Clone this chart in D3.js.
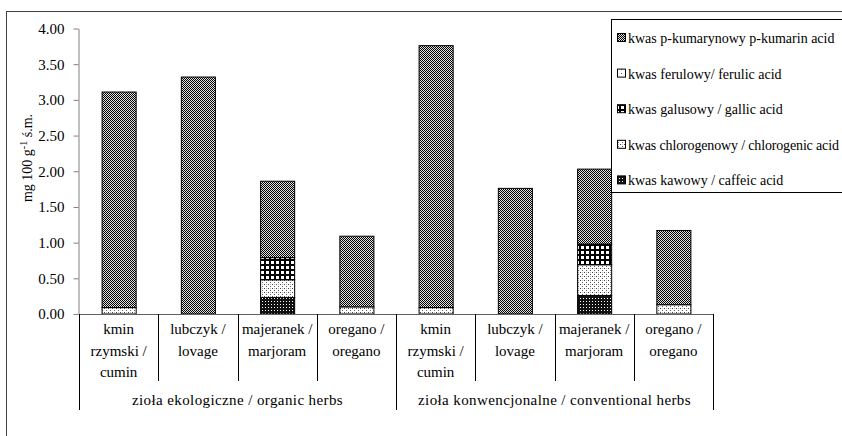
<!DOCTYPE html>
<html><head><meta charset="utf-8">
<script src="https://cdn.jsdelivr.net/npm/d3@7"></script>
<style>
html,body{margin:0;padding:0;background:#fff;}
svg{display:block;}
</style></head>
<body>
<svg id="chart" width="842" height="436"></svg>
<script>
// ---- data ----
const herbLines = [["kmin","rzymski /","cumin"],["lubczyk /","lovage"],["majeranek /","marjoram"],["oregano /","oregano"],
                   ["kmin","rzymski /","cumin"],["lubczyk /","lovage"],["majeranek /","marjoram"],["oregano /","oregano"]];
const categories = ["org-kmin","org-lubczyk","org-majeranek","org-oregano","conv-kmin","conv-lubczyk","conv-majeranek","conv-oregano"];
const groups = ["zioła ekologiczne / organic herbs","zioła konwencjonalne / conventional herbs"];
const seriesNames = ["kwas kawowy / caffeic acid","kwas chlorogenowy / chlorogenic acid","kwas galusowy / gallic acid","kwas ferulowy/  ferulic acid","kwas p-kumarynowy p-kumarin acid"];
const caffeic     = [0.00,0.00,0.23,0.00, 0.00,0.00,0.26,0.00];
const chlorogenic = [0.09,0.00,0.25,0.10, 0.09,0.00,0.43,0.13];
const gallic      = [0.00,0.00,0.31,0.00, 0.00,0.00,0.29,0.00];
const ferulic     = [0.00,0.00,0.00,0.00, 0.00,0.00,0.00,0.00];
const pkumarin    = [3.02,3.32,1.07,0.99, 3.67,1.76,1.05,1.04];
const yTicks = [0,0.5,1,1.5,2,2.5,3,3.5,4];
const legendOrder = [4,3,2,1,0];
const legendSpacing = {1:-0.15};

const FONT = "'Liberation Serif','DejaVu Serif','Times New Roman',serif";
const svg = d3.select("#chart");
const defs = svg.append("defs");
// patterns
function pat(id, size, bg, draw){
  const p = defs.append("pattern").attr("id",id).attr("patternUnits","userSpaceOnUse").attr("width",size).attr("height",size);
  p.append("rect").attr("width",size).attr("height",size).attr("fill",bg);
  draw(p);
}
pat("p0",3,"#111",p=>{p.append("rect").attr("x",1).attr("y",1).attr("width",1).attr("height",1).attr("fill","#fff");});
pat("p1",4,"#fff",p=>{p.append("rect").attr("x",0).attr("y",0).attr("width",1).attr("height",1).attr("fill","#444");
                      p.append("rect").attr("x",2).attr("y",2).attr("width",1).attr("height",1).attr("fill","#666");
                      p.append("rect").attr("x",2).attr("y",0).attr("width",1).attr("height",1).attr("fill","#bbb");});
pat("p2",5,"#000",p=>{p.append("rect").attr("x",1).attr("y",1).attr("width",3).attr("height",3).attr("fill","#fff");});
pat("p3",4,"#fff",p=>{p.append("rect").attr("x",1).attr("y",1).attr("width",1).attr("height",1).attr("fill","#555");});
pat("p4",2,"#e0e0e0",p=>{p.append("rect").attr("x",0).attr("y",0).attr("width",1).attr("height",1).attr("fill","#000");
                      p.append("rect").attr("x",1).attr("y",1).attr("width",1).attr("height",1).attr("fill","#000");});

// outer frame
svg.append("rect").attr("x",6.5).attr("y",11.5).attr("width",900).attr("height",500)
  .attr("fill","none").attr("stroke","#404040").attr("stroke-width",1);

const x = d3.scaleBand().domain(categories).range([79,713]).paddingInner(0.57).paddingOuter(0.285);
const y = d3.scaleLinear().domain([0,4]).range([314,28.5]);

// y axis
const yAxis = svg.append("g").attr("transform","translate(78.5,0)")
  .call(d3.axisLeft(y).tickValues(yTicks).tickFormat(d3.format(".2f")).tickSize(5).tickPadding(9).tickSizeOuter(0));
yAxis.attr("font-family",null);
yAxis.select(".domain").attr("stroke","#808080");
yAxis.selectAll(".tick line").attr("stroke","#808080");
yAxis.selectAll(".tick text").attr("font-size",15).attr("fill","#000");

// y label
const yl = svg.append("text").attr("transform","translate(32,158) rotate(-90)").attr("text-anchor","middle").attr("font-size",14);
yl.append("tspan").text("mg 100 g");
yl.append("tspan").attr("dy",-5).attr("font-size",10).text("-1");
yl.append("tspan").attr("dy",5).text(" ś.m.");

// stacks
const table = categories.map((c,i)=>({cat:c, s0:caffeic[i], s1:chlorogenic[i], s2:gallic[i], s3:ferulic[i], s4:pkumarin[i]}));
const stack = d3.stack().keys(["s0","s1","s2","s3","s4"])(table);
stack.forEach((layer,k)=>{
  svg.append("g").selectAll("rect").data(layer.filter(d=>d[1]-d[0]>0)).join("rect")
    .attr("x",d=>x(d.data.cat)+0.5).attr("width",x.bandwidth())
    .attr("y",d=>y(d[1])).attr("height",d=>y(d[0])-y(d[1]))
    .attr("fill",`url(#p${k})`).attr("stroke","#000").attr("stroke-width",1);
});

// x axis line
svg.append("line").attr("x1",79).attr("x2",713).attr("y1",314.5).attr("y2",314.5).attr("stroke","#606060");
// category separators
const step = x.step();
const x0 = x.range()[0];
d3.range(1,8).forEach(i=>{
  const xx = Math.round(x0+i*step)+0.5;
  svg.append("line").attr("x1",xx).attr("x2",xx).attr("y1",314).attr("y2", i===4?410:381).attr("stroke","#000");
});
[0,8].forEach(i=>{
  const xx = Math.round(x0+i*step)+0.5;
  svg.append("line").attr("x1",xx).attr("x2",xx).attr("y1",314).attr("y2",410).attr("stroke","#000");
});
// category labels
categories.forEach((c,i)=>{
  const cx = x(c)+x.bandwidth()/2;
  herbLines[i].forEach((t,j)=>{
    svg.append("text").attr("x",cx).attr("y",334+j*21.5).attr("text-anchor","middle").attr("font-size",15).text(t);
  });
});
groups.forEach((g,i)=>{
  svg.append("text").attr("x",x0+step*(4*i+2)).attr("y",405).attr("text-anchor","middle").attr("font-size",15)
    .style("letter-spacing","0.4px").text(g);
});

// legend
svg.append("rect").attr("x",611.5).attr("y",19.5).attr("width",300).attr("height",173).attr("fill","#fff").attr("stroke","#000");
legendOrder.forEach((k,j)=>{
  const ly = 38+j*35.6;
  svg.append("rect").attr("x",617.5).attr("y",ly-4.5).attr("width",8).attr("height",8).attr("fill",`url(#p${k})`).attr("stroke","#000");
  svg.append("text").attr("x",628).attr("y",ly+5).attr("font-size",14)
    .style("letter-spacing",(legendSpacing[k]||0)+"px").text(seriesNames[k]);
});

svg.selectAll("text").style("font-family",FONT).style("fill","#000");
</script>
</body></html>
